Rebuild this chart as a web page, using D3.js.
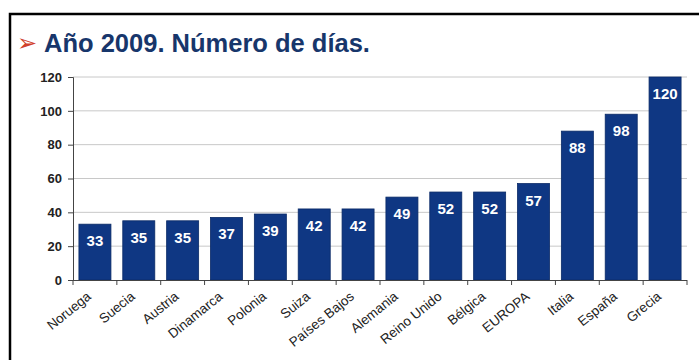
<!DOCTYPE html>
<html>
<head>
<meta charset="utf-8">
<script src="https://cdn.jsdelivr.net/npm/d3@7"></script>
<style>
  body { margin: 0; background: #fff; }
  text { font-family: "Liberation Sans", Arial, sans-serif; }
</style>
</head>
<body>
<div class="chart"></div>
<script>
var countries = ["Noruega", "Suecia", "Austria", "Dinamarca", "Polonia", "Suiza", "Países Bajos",
  "Alemania", "Reino Unido", "Bélgica", "EUROPA", "Italia", "España", "Grecia"];
var days = [33, 35, 35, 37, 39, 42, 42, 49, 52, 52, 57, 88, 98, 120];
var yTicks = [0, 20, 40, 60, 80, 100, 120];

var svgWidth = 699;
var svgHeight = 360;

var svg = d3.select(".chart")
  .append("svg")
  .attr("width", svgWidth)
  .attr("height", svgHeight);

// frame
svg.append("path")
  .attr("d", "M10,360 L10,14 L699,14")
  .attr("fill", "none")
  .attr("stroke", "#000")
  .attr("stroke-width", 2.5);

// title
svg.append("text")
  .attr("x", 17)
  .attr("y", 51)
  .attr("fill", "#d0402a")
  .style("font-family", "DejaVu Sans")
  .style("font-size", "24px")
  .text("➢");

svg.append("text")
  .attr("x", 44)
  .attr("y", 52)
  .attr("fill", "#17366b")
  .style("font-size", "25.5px")
  .style("font-weight", "bold")
  .text("Año 2009. Número de días.");

var x = d3.scaleBand()
  .domain(countries)
  .range([73, 687])
  .paddingInner(0.27)
  .paddingOuter(0.135);

var y = d3.scaleLinear()
  .domain([0, 120])
  .range([280, 77]);

// gridlines
svg.append("g")
  .selectAll("line")
  .data(yTicks.slice(1))
  .enter()
  .append("line")
  .attr("x1", 73)
  .attr("x2", 687)
  .attr("y1", d => y(d))
  .attr("y2", d => y(d))
  .attr("stroke", "#c8c8c8")
  .attr("stroke-width", 1);

// y axis
var leftAxis = d3.axisLeft(y).tickValues(yTicks).tickSize(5).tickPadding(6);
var gy = svg.append("g")
  .attr("transform", "translate(73,0)")
  .call(leftAxis);
gy.select(".domain").attr("stroke", "#444");
gy.selectAll(".tick line").attr("stroke", "#444");
gy.selectAll(".tick text")
  .attr("fill", "#222")
  .style("font-size", "13px")
  .style("font-weight", "bold");

// bars
svg.append("g")
  .selectAll("rect")
  .data(countries)
  .enter()
  .append("rect")
  .attr("x", d => x(d))
  .attr("y", (d, i) => y(days[i]))
  .attr("width", x.bandwidth())
  .attr("height", (d, i) => y(0) - y(days[i]))
  .attr("fill", "#0f3783")
  .attr("stroke", "#0a2a66")
  .attr("stroke-width", 0.8);

// value labels
svg.append("g")
  .selectAll("text")
  .data(countries)
  .enter()
  .append("text")
  .attr("x", d => x(d) + x.bandwidth() / 2)
  .attr("y", (d, i) => y(days[i]) + 22)
  .attr("text-anchor", "middle")
  .attr("fill", "#fff")
  .style("font-size", "15px")
  .style("font-weight", "bold")
  .text((d, i) => days[i]);

// x axis with ticks between bars
var step = x.step();
var xTicks = d3.range(countries.length + 1).map(i => 73 + i * step);
svg.append("line")
  .attr("x1", 73).attr("x2", 687)
  .attr("y1", 280.5).attr("y2", 280.5)
  .attr("stroke", "#444");
svg.append("g")
  .selectAll("line")
  .data(xTicks)
  .enter()
  .append("line")
  .attr("x1", d => d).attr("x2", d => d)
  .attr("y1", 280).attr("y2", 285)
  .attr("stroke", "#444");

// category labels
svg.append("g")
  .selectAll("text")
  .data(countries)
  .enter()
  .append("text")
  .attr("transform", d => `translate(${x(d) + x.bandwidth() / 2 - 3}, 298) rotate(-39)`)
  .attr("text-anchor", "end")
  .attr("fill", "#222")
  .style("font-size", "13.5px")
  .text(d => d);
</script>
</body>
</html>
